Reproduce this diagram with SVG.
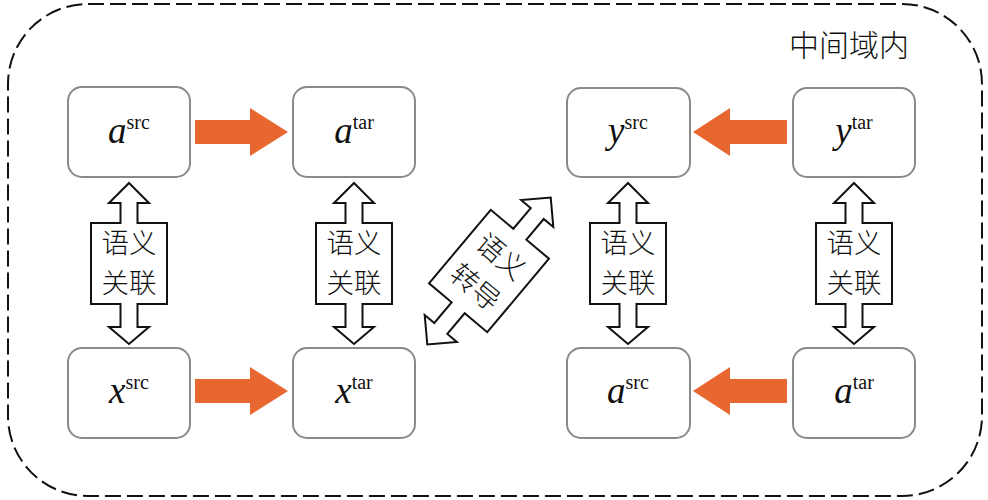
<svg xmlns="http://www.w3.org/2000/svg" width="988" height="500" viewBox="0 0 988 500">
<defs>
<style>
.node rect{fill:#fff;stroke:#8a8a8a;stroke-width:2}
.lbl{font-family:"Liberation Serif",serif;fill:#111}
.v{font-style:italic;font-size:37px}
.s{font-size:20px}
.cjk{font-family:"Noto Sans CJK SC","Noto Sans CJK JP",sans-serif;font-size:30px;fill:#111;font-weight:300}
.rl{font-size:27.5px}
.flow{fill:#E8662F}
.dbl{fill:#fff;stroke:#111;stroke-width:2;stroke-linejoin:miter}
</style>
<path id="dblv" d="M0,-80.5 L20,-60.5 L8.5,-60.5 L8.5,-40.5 L38,-40.5 L38,40.5 L8.5,40.5 L8.5,63.5 L20,63.5 L0,80.5 L-20,63.5 L-8.5,63.5 L-8.5,40.5 L-38,40.5 L-38,-40.5 L-8.5,-40.5 L-8.5,-60.5 L-20,-60.5 Z"/>
<path id="dbld" d="M0,-96 L21,-75 L8.5,-75 L8.5,-48 L38,-48 L38,48 L8.5,48 L8.5,75 L21,75 L0,96 L-21,75 L-8.5,75 L-8.5,48 L-38,48 L-38,-48 L-8.5,-48 L-8.5,-75 L-21,-75 Z"/>
</defs>
<rect x="8" y="4" width="974" height="492" rx="80" ry="80" fill="none" stroke="#111" stroke-width="2" stroke-dasharray="16 6"/>
<text x="849" y="56" text-anchor="middle" class="cjk">中间域内</text>

<g id="connectors">
<path class="flow" d="M195,120 L250,120 L250,108 L288,132 L250,156 L250,144 L195,144 Z"/>
<path class="flow" d="M195,379 L250,379 L250,367 L288,391 L250,415 L250,403 L195,403 Z"/>
<path class="flow" d="M787,120 L730,120 L730,108 L693,132 L730,156 L730,144 L787,144 Z"/>
<path class="flow" d="M787,379 L730,379 L730,367 L693,391 L730,415 L730,403 L787,403 Z"/>

<g id="rel1" transform="translate(129,263.5)"><use href="#dblv" class="dbl"/><text class="cjk rl" text-anchor="middle" y="-11">语义</text><text class="cjk rl" text-anchor="middle" y="29">关联</text></g>
<g id="rel2" transform="translate(354,263.5)"><use href="#dblv" class="dbl"/><text class="cjk rl" text-anchor="middle" y="-11">语义</text><text class="cjk rl" text-anchor="middle" y="29">关联</text></g>
<g id="rel3" transform="translate(628,263.5)"><use href="#dblv" class="dbl"/><text class="cjk rl" text-anchor="middle" y="-11">语义</text><text class="cjk rl" text-anchor="middle" y="29">关联</text></g>
<g id="rel4" transform="translate(854,263.5)"><use href="#dblv" class="dbl"/><text class="cjk rl" text-anchor="middle" y="-11">语义</text><text class="cjk rl" text-anchor="middle" y="29">关联</text></g>
<g id="trans" transform="translate(489,271) rotate(40)"><use href="#dbld" class="dbl"/><text class="cjk rl" text-anchor="middle" y="-9">语义</text><text class="cjk rl" text-anchor="middle" y="31">转导</text></g>
</g>

<g id="n_asrc" class="node"><rect x="68" y="87" width="122" height="90" rx="14"/><text class="lbl" x="129" y="143" text-anchor="middle"><tspan class="v">a</tspan><tspan class="s" dy="-14">src</tspan></text></g>
<g id="n_atar" class="node"><rect x="293" y="87" width="122" height="90" rx="14"/><text class="lbl" x="354" y="143" text-anchor="middle"><tspan class="v">a</tspan><tspan class="s" dy="-14">tar</tspan></text></g>
<g id="n_ysrc" class="node"><rect x="567" y="88" width="123" height="89" rx="14"/><text class="lbl" x="628" y="143" text-anchor="middle"><tspan class="v">y</tspan><tspan class="s" dy="-14">src</tspan></text></g>
<g id="n_ytar" class="node"><rect x="793" y="88" width="122" height="89" rx="14"/><text class="lbl" x="854" y="143" text-anchor="middle"><tspan class="v">y</tspan><tspan class="s" dy="-14">tar</tspan></text></g>
<g id="n_xsrc" class="node"><rect x="68" y="348" width="122" height="90" rx="14"/><text class="lbl" x="129" y="403" text-anchor="middle"><tspan class="v">x</tspan><tspan class="s" dy="-14">src</tspan></text></g>
<g id="n_xtar" class="node"><rect x="293" y="348" width="122" height="90" rx="14"/><text class="lbl" x="354" y="403" text-anchor="middle"><tspan class="v">x</tspan><tspan class="s" dy="-14">tar</tspan></text></g>
<g id="n_asrc2" class="node"><rect x="567" y="348" width="123" height="90" rx="14"/><text class="lbl" x="628" y="403" text-anchor="middle"><tspan class="v">a</tspan><tspan class="s" dy="-14">src</tspan></text></g>
<g id="n_atar2" class="node"><rect x="793" y="348" width="122" height="90" rx="14"/><text class="lbl" x="854" y="403" text-anchor="middle"><tspan class="v">a</tspan><tspan class="s" dy="-14">tar</tspan></text></g>
</svg>
